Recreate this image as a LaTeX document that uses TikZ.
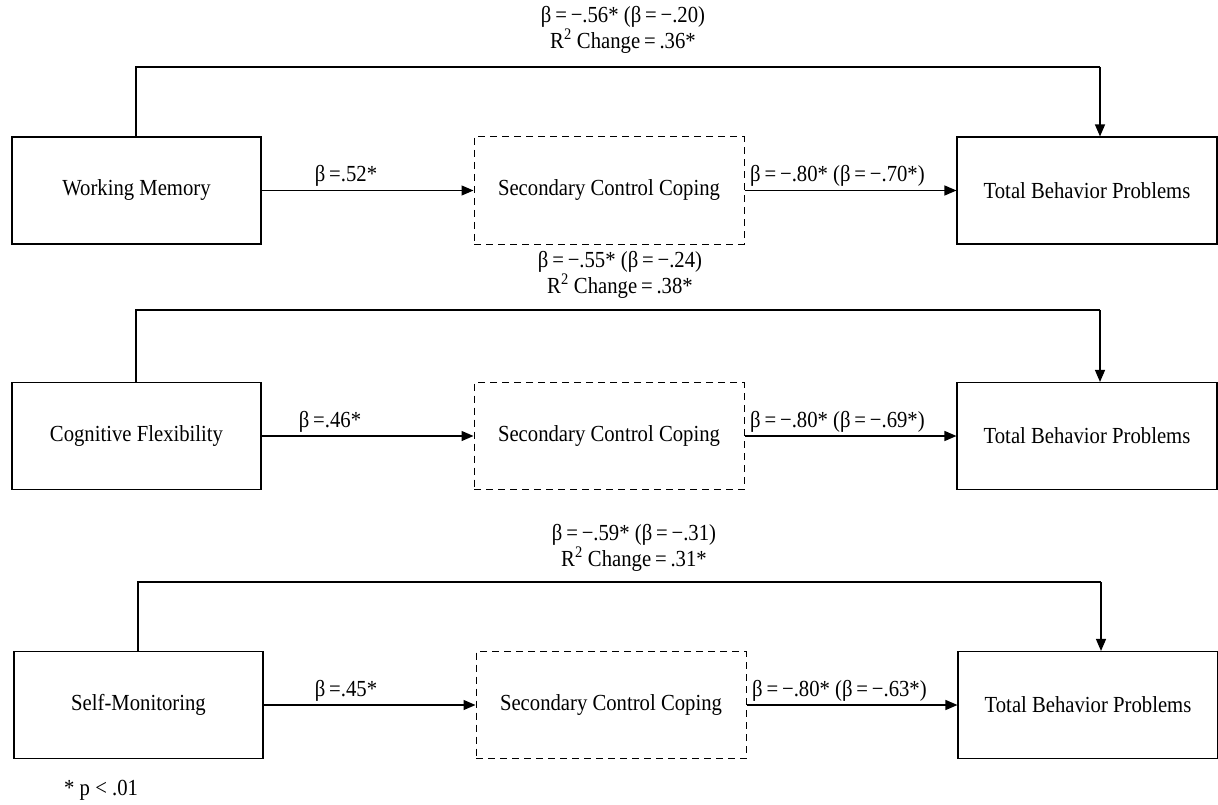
\documentclass[tikz,border=0pt]{standalone}
\usepackage{fontspec}
\setmainfont{Liberation Serif}[FakeStretch=0.9]
\usetikzlibrary{arrows.meta}
\begin{document}
\begin{tikzpicture}[x=1pt,y=-1pt,
  lbl/.style={font=\fontsize{23}{24}\selectfont, inner sep=0pt, align=center},
  solidbox/.style={draw, line width=1.1pt, minimum height=107pt, inner sep=0pt, font=\fontsize{23}{24}\selectfont},
  leftbox/.style={solidbox, minimum width=249pt},
  rightbox/.style={solidbox, minimum width=260pt},
  dashbox/.style={draw, line width=1pt, dash pattern=on 7pt off 5pt, minimum width=270pt, minimum height=107pt, inner sep=0pt, font=\fontsize{23}{24}\selectfont},
  arr/.style={line width=1.3pt, -{Triangle[length=12pt,width=10pt]}},
  conn/.style={line width=1.1pt}]
\useasboundingbox (0,0) rectangle (1218,805);

% ---------- Row 1 ----------
\node[leftbox] (a1) at (136.5,190.5) {Working Memory};
\node[dashbox] (m1) at (609,190.5) {Secondary Control Coping};
\node[rightbox] (y1) at (1087,190.5) {Total Behavior Problems};
\coordinate (p1) at (136,67);
\coordinate (q1) at (1100,67);
\draw[conn] (a1.north -| p1) -- (p1) -- (q1);
\draw[arr] (q1) -- (y1.north -| q1);
\draw[arr] (a1.east) -- (m1.west);
\draw[arr] (m1.east) -- (y1.west);
\node[lbl] (t1) at (623,30) {β\,=\,−.56* (β\,=\,−.20)\\R\textsuperscript{2} Change\,=\,.36*};
\node[lbl] (b1) at (346,176) {β\,=.52*};
\node[lbl, anchor=west] (c1) at (750,176) {β\,=\,−.80* (β\,=\,−.70*)};

% ---------- Row 2 ----------
\node[leftbox] (a2) at (136.5,436) {Cognitive Flexibility};
\node[dashbox] (m2) at (609,436) {Secondary Control Coping};
\node[rightbox] (y2) at (1087,436) {Total Behavior Problems};
\coordinate (p2) at (136,310);
\coordinate (q2) at (1100,310);
\draw[conn] (a2.north -| p2) -- (p2) -- (q2);
\draw[arr] (q2) -- (y2.north -| q2);
\draw[arr] (a2.east) -- (m2.west);
\draw[arr] (m2.east) -- (y2.west);
\node[lbl] (t2) at (620,275) {β\,=\,−.55* (β\,=\,−.24)\\R\textsuperscript{2} Change\,=\,.38*};
\node[lbl] (b2) at (330,422) {β\,=.46*};
\node[lbl, anchor=west] (c2) at (750,422) {β\,=\,−.80* (β\,=\,−.69*)};

% ---------- Row 3 ----------
\node[leftbox] (a3) at (138.5,705) {Self-Monitoring};
\node[dashbox] (m3) at (611,705) {Secondary Control Coping};
\node[rightbox] (y3) at (1088,705) {Total Behavior Problems};
\coordinate (p3) at (138,582);
\coordinate (q3) at (1101,582);
\draw[conn] (a3.north -| p3) -- (p3) -- (q3);
\draw[arr] (q3) -- (y3.north -| q3);
\draw[arr] (a3.east) -- (m3.west);
\draw[arr] (m3.east) -- (y3.west);
\node[lbl] (t3) at (634,548) {β\,=\,−.59* (β\,=\,−.31)\\R\textsuperscript{2} Change\,=\,.31*};
\node[lbl] (b3) at (346,691) {β\,=.45*};
\node[lbl, anchor=west] (c3) at (752,691) {β\,=\,−.80* (β\,=\,−.63*)};

\node[lbl, anchor=west] (note) at (64,790) {* p {\textless} .01};
\end{tikzpicture}
\end{document}
